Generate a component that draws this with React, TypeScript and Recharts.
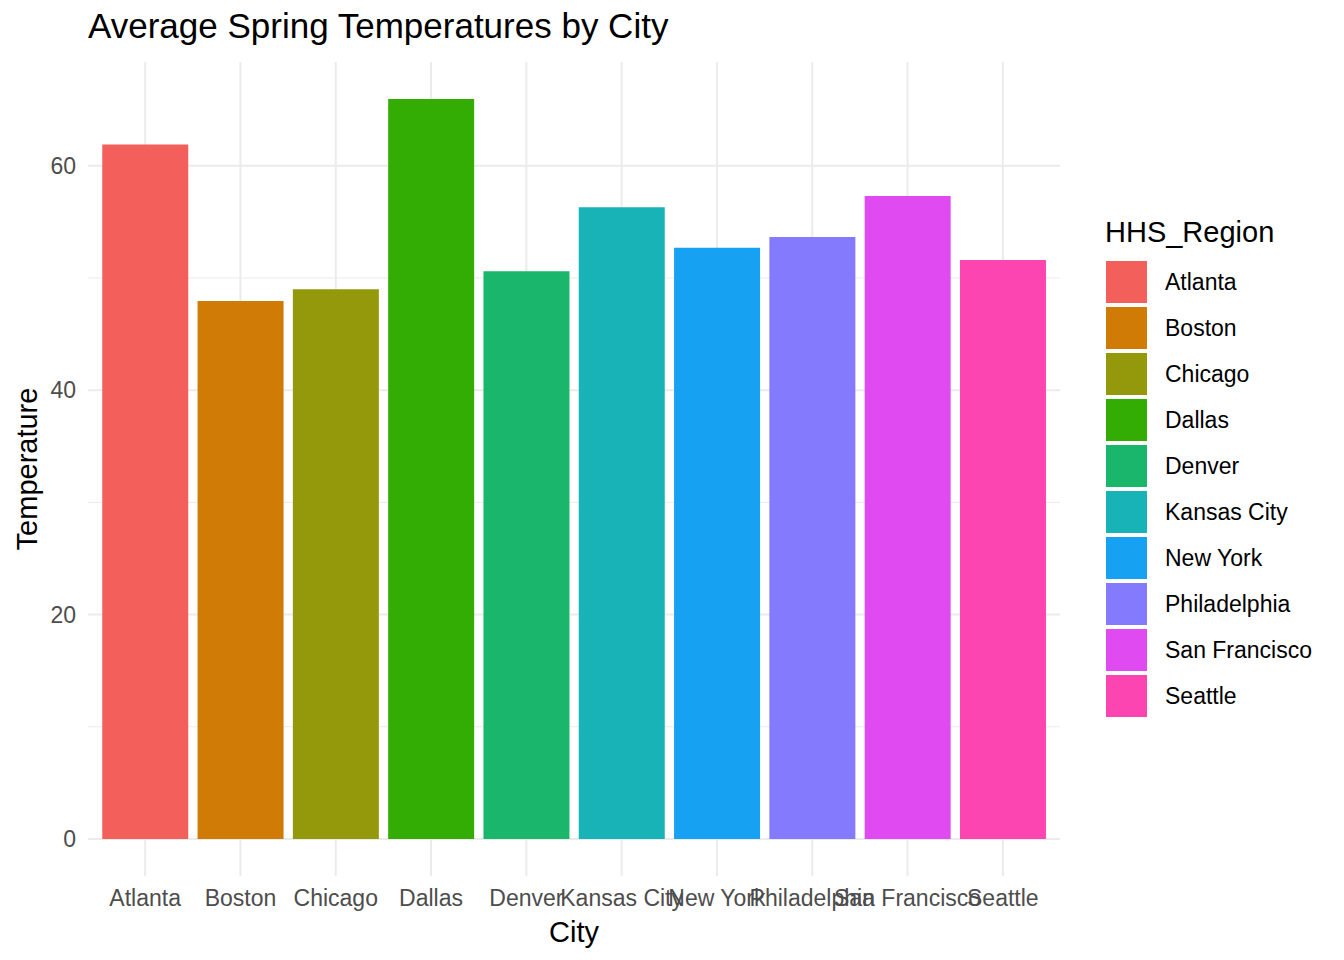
import React from 'react'
import { BarChart, Bar, Cell, XAxis, YAxis, CartesianGrid } from 'recharts'

const cities = [
  'Atlanta',
  'Boston',
  'Chicago',
  'Dallas',
  'Denver',
  'Kansas City',
  'New York',
  'Philadelphia',
  'San Francisco',
  'Seattle',
]
const temperatures = [61.9, 47.95, 49.0, 65.95, 50.6, 56.3, 52.7, 53.65, 57.3, 51.6]
const regionColors = [
  '#F35F5B',
  '#CF7B06',
  '#93990A',
  '#33AD04',
  '#19B66C',
  '#18B3B7',
  '#16A1F3',
  '#847AFE',
  '#DF4BF1',
  '#FC45B0',
]
const yTicks = [0, 20, 40, 60]
const yMinorTicks = [10, 30, 50]

const data = cities.map((city, i) => ({ city, temp: temperatures[i] }))

const font = '"Liberation Sans", Arial, Helvetica, sans-serif'

export default function App() {
  return (
    <div
      style={{
        position: 'absolute',
        left: 0,
        top: 0,
        width: 1344,
        height: 960,
        background: '#fff',
        fontFamily: font,
      }}
    >
      <div
        style={{
          position: 'absolute',
          left: 88,
          top: 6,
          fontSize: 35,
          color: '#000',
          whiteSpace: 'nowrap',
        }}
      >
        Average Spring Temperatures by City
      </div>

      <BarChart
        width={1344}
        height={960}
        data={data}
        margin={{ top: 62, right: 284, bottom: 0, left: 0 }}
        barCategoryGap="5%"
        style={{ fontFamily: font }}
      >
        {/* minor grid */}
        <CartesianGrid
          vertical={false}
          horizontalValues={yMinorTicks}
          stroke="#EBEBEB"
          strokeWidth={1}
        />
        {/* major grid */}
        <CartesianGrid
          horizontalValues={yTicks}
          verticalValues={cities}
          stroke="#EBEBEB"
          strokeWidth={2}
        />
        <XAxis
          dataKey="city"
          height={84}
          interval={0}
          axisLine={false}
          tickLine={false}
          tickSize={0}
          tickMargin={14}
          padding={{ left: 9.5, right: 9.5 }}
          tick={{ fill: '#4D4D4D', fontSize: 23 }}
          label={{ value: 'City', position: 'insideBottom', offset: 18, fill: '#000', fontSize: 29 }}
        />
        <YAxis
          width={88}
          domain={[-3.3, 69.25]}
          ticks={yTicks}
          allowDataOverflow
          axisLine={false}
          tickLine={false}
          tickSize={0}
          tickMargin={12}
          tick={{ fill: '#4D4D4D', fontSize: 23 }}
          label={{
            value: 'Temperature',
            angle: -90,
            position: 'insideLeft',
            offset: 27,
            fill: '#000',
            fontSize: 29,
            style: { textAnchor: 'middle' },
          }}
        />
        <Bar dataKey="temp" isAnimationActive={false}>
          {data.map((d, i) => (
            <Cell key={d.city} fill={regionColors[i]} />
          ))}
        </Bar>
      </BarChart>

      <div style={{ position: 'absolute', left: 1105, top: 214 }}>
        <div style={{ fontSize: 29, color: '#000', lineHeight: '36px', marginBottom: 9 }}>HHS_Region</div>
        {cities.map((c, i) => (
          <div key={c} style={{ display: 'flex', alignItems: 'center', height: 46 }}>
            <div style={{ width: 41, height: 42, background: regionColors[i], marginLeft: 1 }} />
            <div style={{ marginLeft: 18, fontSize: 23, color: '#000' }}>{c}</div>
          </div>
        ))}
      </div>
    </div>
  )
}
